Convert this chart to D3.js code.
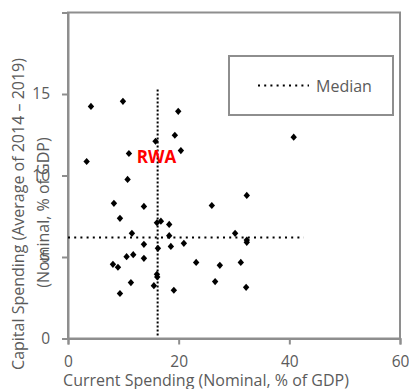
<!DOCTYPE html>
<html>
<head>
<meta charset="utf-8">
<script src="https://cdn.jsdelivr.net/npm/d3@7"></script>
<style>
  html, body { margin: 0; padding: 0; background: #fff; }
  svg { display: block; }
  text { font-family: "Open Sans", "Noto Sans", sans-serif; }
</style>
</head>
<body>
<script>
// Current vs. capital spending, % of GDP
const currentSpending = [
  4.15, 9.93, 19.92, 19.31, 15.82, 20.40, 11.01, 3.37, 10.77, 40.79,
  32.31, 8.30, 13.72, 25.99, 9.39, 16.07, 16.79, 18.29, 11.55, 18.29,
  30.20, 32.31, 32.31, 13.72, 16.25, 18.59, 20.94, 10.59, 11.79, 13.72,
  8.12, 9.03, 23.16, 27.44, 31.23, 16.07, 16.13, 11.37, 15.52, 26.59,
  32.19, 9.39, 19.13
];
const capitalSpending = [
  14.24, 14.55, 13.94, 12.47, 12.10, 11.53, 11.35, 10.86, 9.76, 12.35,
  8.78, 8.29, 8.10, 8.16, 7.37, 7.10, 7.20, 7.00, 6.45, 6.31,
  6.45, 6.04, 5.90, 5.78, 5.53, 5.65, 5.84, 5.02, 5.14, 4.92,
  4.55, 4.37, 4.67, 4.49, 4.67, 3.94, 3.78, 3.43, 3.24, 3.49,
  3.14, 2.76, 2.96
];

const medianCurrent = 16.2;
const medianCapital = 6.2;
const medianCurrentSpan = [0, 15.3];   // capital range covered by the vertical median
const medianCapitalSpan = [0, 42.6];   // current range covered by the horizontal median

const xTicks = [0, 20, 40, 60];
const yTicks = [0, 5, 10, 15];
const xDomain = [0, 60];
const yDomain = [0, 20];

const highlight = { label: "RWA", x: 16.0, y: 10.75 };

const xTitle = "Current Spending (Nominal, % of GDP)";
const yTitleLines = ["Capital Spending (Average of 2014 \u2013 2019)", "(Nominal, % of GDP)"];
const legendLabel = "Median";

const W = 409, H = 389;
const axisGrey = "#8e8e8e";
const textGrey = "#5b5b5b";

const svg = d3.select("body").append("svg")
  .attr("width", W).attr("height", H);

const x = d3.scaleLinear().domain(xDomain).range([68, 400]);
const y = d3.scaleLinear().domain(yDomain).range([338.5, 12.5]);

// frame around the plot area
svg.append("rect")
  .attr("x", x(xDomain[0])).attr("y", y(yDomain[1]))
  .attr("width", x(xDomain[1]) - x(xDomain[0]))
  .attr("height", y(yDomain[0]) - y(yDomain[1]))
  .attr("fill", "none").attr("stroke", axisGrey).attr("stroke-width", 2);

// axes
const xAxis = svg.append("g")
  .attr("transform", `translate(0,${y(0)})`)
  .call(d3.axisBottom(x).tickValues(xTicks).tickSize(6).tickPadding(11).tickFormat(d3.format("d")));
const yAxis = svg.append("g")
  .attr("transform", `translate(${x(0)},0)`)
  .call(d3.axisLeft(y).tickValues(yTicks).tickSize(6).tickPadding(12).tickFormat(d3.format("d")));

[xAxis, yAxis].forEach(g => {
  g.select(".domain").attr("stroke", axisGrey).attr("stroke-width", 2);
  g.selectAll(".tick line").attr("stroke", axisGrey).attr("stroke-width", 2);
  g.selectAll(".tick text")
    .attr("fill", textGrey)
    .style("font-size", "15.5px")
    .style("font-family", '"Open Sans", "Noto Sans", sans-serif');
});
xAxis.selectAll(".tick text").attr("dy", "0.71em");

// median reference lines
svg.append("line")
  .attr("x1", x(medianCurrent)).attr("x2", x(medianCurrent))
  .attr("y1", y(medianCurrentSpan[0]) - 3).attr("y2", y(medianCurrentSpan[1]))
  .attr("stroke", "#000").attr("stroke-width", 2).attr("stroke-dasharray", "2,2");
svg.append("line")
  .attr("x1", x(medianCapitalSpan[0])).attr("x2", x(medianCapitalSpan[1]))
  .attr("y1", y(medianCapital)).attr("y2", y(medianCapital))
  .attr("stroke", "#000").attr("stroke-width", 2).attr("stroke-dasharray", "2,4.2");

// country markers
const diamond = "M0,-3.6L3.2,0L0,3.6L-3.2,0Z";
svg.append("g").selectAll("path")
  .data(d3.zip(currentSpending, capitalSpending))
  .join("path")
  .attr("d", diamond)
  .attr("transform", d => `translate(${x(d[0])},${y(d[1])})`)
  .attr("fill", "#000");

// highlighted country label
svg.append("text")
  .attr("x", x(highlight.x)).attr("y", y(highlight.y))
  .attr("text-anchor", "middle")
  .attr("fill", "#ff0000")
  .style("font-size", "17px").style("font-weight", "bold")
  .text(highlight.label);

// legend
const lg = svg.append("g");
lg.append("rect")
  .attr("x", 229).attr("y", 56).attr("width", 164).attr("height", 59)
  .attr("fill", "#fff").attr("stroke", axisGrey).attr("stroke-width", 2);
lg.append("line")
  .attr("x1", 258).attr("x2", 309).attr("y1", 85.5).attr("y2", 85.5)
  .attr("stroke", "#000").attr("stroke-width", 2).attr("stroke-dasharray", "2,4.2");
lg.append("text")
  .attr("x", 316).attr("y", 91.5)
  .attr("fill", textGrey).style("font-size", "16px")
  .text(legendLabel);

// axis titles
svg.append("text")
  .attr("x", 206).attr("y", 385.5)
  .attr("text-anchor", "middle")
  .attr("fill", textGrey).style("font-size", "16px")
  .text(xTitle);

const yTitleX = [24, 48.5];
const yTitleY = [214, 212.5];
yTitleLines.forEach((t, i) => {
  svg.append("text")
    .attr("transform", `translate(${yTitleX[i]},${yTitleY[i]}) rotate(-90)`)
    .attr("text-anchor", "middle")
    .attr("fill", textGrey).style("font-size", "16px")
    .text(t);
});
</script>
</body>
</html>
